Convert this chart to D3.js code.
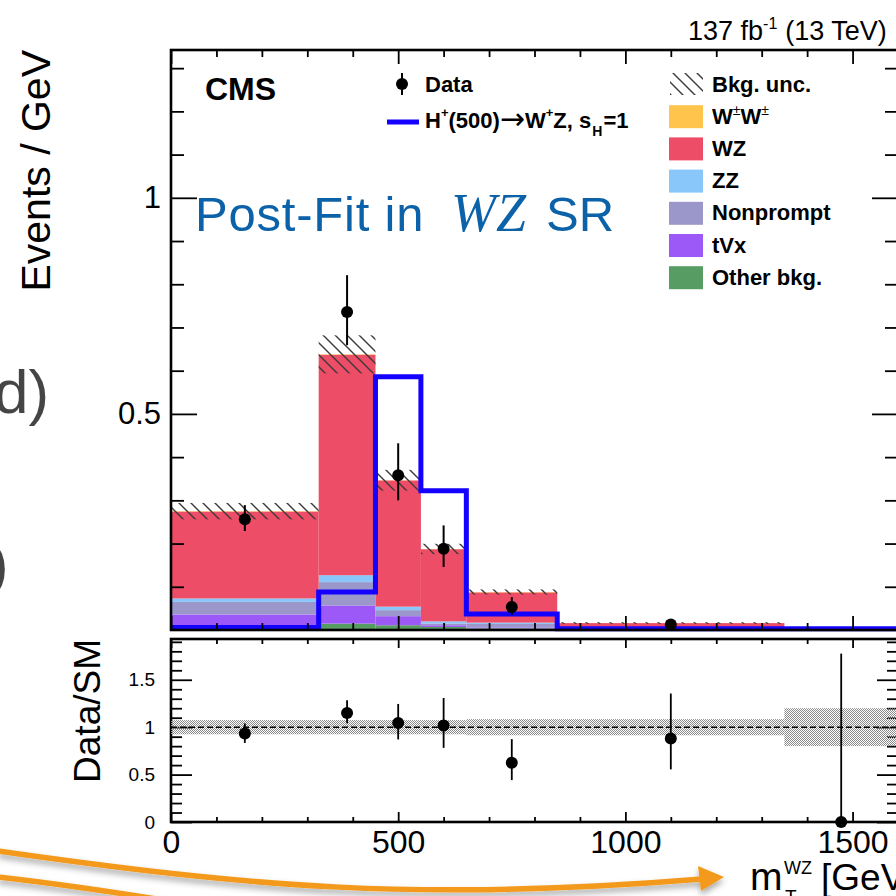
<!DOCTYPE html>
<html>
<head>
<meta charset="utf-8">
<script src="https://cdn.jsdelivr.net/npm/d3@7"></script>
<style>
  html, body { margin: 0; padding: 0; background: #ffffff; }
  svg { display: block; font-family: "Liberation Sans", Arial, Helvetica, sans-serif; }
</style>
</head>
<body>
<script>
// ---- m_T(WZ) binning and post-fit yields (events / GeV) ----
const binEdges  = [0, 325, 450, 550, 650, 850, 1350, 1600];
const otherBkg  = [0.004, 0.0148, 0.011, 0.007, 0.004, 0.0005, 0.0002];
const tVx       = [0.032, 0.042, 0.021, 0.004, 0.002, 0.0005, 0.0002];
const nonprompt = [0.029, 0.054, 0.014, 0.004, 0.008, 0.002, 0.0004];
const zz        = [0.008, 0.016, 0.008, 0.005, 0.003, 0.001, 0.0002];
const wz        = [0.201, 0.510, 0.292, 0.167, 0.070, 0.012, 0.0015];
const wpmwpm    = [0.001, 0.001, 0.0005, 0.0005, 0.001, 0.0001, 0.0001];
const bkgUnc    = [0.019, 0.044, 0.024, 0.012, 0.006, 0.002, 0.0006];
const signal    = [0.006, 0.088, 0.586, 0.322, 0.037, 0.003, 0.003];

// observed data (no entry in the last bin)
const dataVal   = [0.256, 0.736, 0.358, 0.188, 0.053, 0.013, null];
const dataErrLo = [0.027, 0.077, 0.058, 0.042, 0.018, 0.005, 0];
const dataErrHi = [0.033, 0.085, 0.074, 0.054, 0.023, 0.007, 0];

// ratio panel
const ratioVal   = [0.934, 1.15, 1.045, 1.018, 0.624, 0.88, 0];
const ratioErrLo = [0.10, 0.108, 0.174, 0.236, 0.182, 0.325, 0];
const ratioErrHi = [0.105, 0.134, 0.20, 0.29, 0.25, 0.475, 1.776];
const ratioBand  = [0.075, 0.075, 0.075, 0.075, 0.085, 0.085, 0.20];

// ticks
const xMajor = [0, 500, 1000, 1500];
const xMinor = d3.range(100, 1600, 100).filter(v => v % 500 !== 0);
const yMajor = [0.5, 1];
const yMinor = d3.range(1, 14).map(i => i / 10).filter(v => Math.abs(v - 0.5) > 1e-6 && Math.abs(v - 1) > 1e-6);
const rMajor = [0, 0.5, 1, 1.5];
const rMinor = d3.range(1, 20).map(i => i / 10).filter(v => Math.abs(v * 2 - Math.round(v * 2)) > 1e-6);

// legend entries, top to bottom (stack is drawn in reverse order)
const legendNames  = ["W±W±", "WZ", "ZZ", "Nonprompt", "tVx", "Other bkg."];
const legendColors = ["#fec44c", "#ee4d67", "#89c7fb", "#9b97cb", "#9d58f8", "#579c62"];
const stackKeys    = ["other", "tvx", "nonprompt", "zz", "wz", "ww"];
const stackColors  = { other: "#579c62", tvx: "#9d58f8", nonprompt: "#9b97cb", zz: "#89c7fb", wz: "#ee4d67", ww: "#fec44c" };

const FONT = '"Liberation Sans", Arial, Helvetica, sans-serif';

const svg = d3.select("body").append("svg").attr("width", 896).attr("height", 896);
const defs = svg.append("defs");

// hatch for the background uncertainty
const hp = defs.append("pattern").attr("id", "hatch").attr("patternUnits", "userSpaceOnUse")
  .attr("width", 12).attr("height", 12);
hp.append("path").attr("d", "M0,0L12,12M-2,10L2,14M10,-2L14,2")
  .attr("stroke", "#3a3a3a").attr("stroke-width", 1.4).attr("fill", "none");

// stipple for the ratio uncertainty band
const dp = defs.append("pattern").attr("id", "stipple").attr("patternUnits", "userSpaceOnUse")
  .attr("width", 2).attr("height", 2);
dp.append("rect").attr("width", 1).attr("height", 1).attr("fill", "#8a8a8a");
dp.append("rect").attr("x", 1).attr("y", 1).attr("width", 1).attr("height", 1).attr("fill", "#8a8a8a");

const shadow = defs.append("filter").attr("id", "softShadow").attr("x", "-10%").attr("y", "-50%")
  .attr("width", "120%").attr("height", "200%");
shadow.append("feDropShadow").attr("dx", 0).attr("dy", 4).attr("stdDeviation", 3)
  .attr("flood-color", "#000").attr("flood-opacity", 0.35);

// ---- scales ----
const x  = d3.scaleLinear().domain([0, 1600]).range([171, 898]);
const y  = d3.scaleLinear().domain([0, 1.342]).range([630, 50]);
const yr = d3.scaleLinear().domain([0, 1.93]).range([822, 639]);

const nBins = binEdges.length - 1;
const bins = d3.range(nBins).map(i => ({
  lo: binEdges[i], hi: binEdges[i + 1], mid: (binEdges[i] + binEdges[i + 1]) / 2,
  other: otherBkg[i], tvx: tVx[i], nonprompt: nonprompt[i], zz: zz[i], wz: wz[i], ww: wpmwpm[i],
  unc: bkgUnc[i], sig: signal[i],
  data: dataVal[i], dLo: dataErrLo[i], dHi: dataErrHi[i],
  r: ratioVal[i], rLo: ratioErrLo[i], rHi: ratioErrHi[i], band: ratioBand[i]
}));
bins.forEach(b => { b.total = stackKeys.reduce((s, k) => s + b[k], 0); });

// ---- slide text behind the figure ----
svg.append("text").attr("x", -6).attr("y", 413).attr("font-size", 62).attr("fill", "#454545")
  .attr("font-family", FONT).text("d)");
svg.append("text").attr("x", -12).attr("y", 585).attr("font-size", 62).attr("fill", "#454545")
  .attr("font-family", FONT).text(")");

// ---- main panel ----
const main = svg.append("g");

const stacked = d3.stack().keys(stackKeys)(bins);
main.append("g").selectAll("g").data(stacked).join("g")
  .attr("fill", s => stackColors[s.key])
  .selectAll("rect").data(s => s).join("rect")
  .attr("x", d => x(d.data.lo))
  .attr("width", d => x(d.data.hi) - x(d.data.lo))
  .attr("y", d => y(d[1]))
  .attr("height", d => Math.max(0, y(d[0]) - y(d[1])));

// background uncertainty
main.append("g").selectAll("rect").data(bins).join("rect")
  .attr("x", d => x(d.lo)).attr("width", d => x(d.hi) - x(d.lo))
  .attr("y", d => y(d.total + d.unc))
  .attr("height", d => y(d.total - d.unc) - y(d.total + d.unc))
  .attr("fill", "url(#hatch)");

// signal histogram
const sigPts = bins.map(b => [b.lo, b.sig]).concat([[binEdges[nBins], signal[nBins - 1]]]);
main.append("path")
  .attr("d", d3.line().x(d => x(d[0])).y(d => y(d[1])).curve(d3.curveStepAfter)(sigPts))
  .attr("fill", "none").attr("stroke", "#1400ff").attr("stroke-width", 5);

// data points
const dataBins = bins.filter(b => b.data !== null);
main.append("g").selectAll("line").data(dataBins).join("line")
  .attr("x1", d => x(d.mid)).attr("x2", d => x(d.mid))
  .attr("y1", d => y(d.data - d.dLo)).attr("y2", d => y(d.data + d.dHi))
  .attr("stroke", "#000").attr("stroke-width", 2);
main.append("g").selectAll("circle").data(dataBins).join("circle")
  .attr("cx", d => x(d.mid)).attr("cy", d => y(d.data)).attr("r", 6).attr("fill", "#000");

// ---- axis helper ----
function drawAxis(g, axisGen, scale, pos, majors, minors, majLen, minLen, fmt, pad, fs) {
  const gMin = g.append("g").attr("transform", pos)
    .call(axisGen(scale).tickValues(minors).tickSize(-minLen).tickFormat(""));
  const gMaj = g.append("g").attr("transform", pos)
    .call(axisGen(scale).tickValues(majors).tickSize(-majLen).tickPadding(pad)
      .tickFormat(fmt ? fmt : () => ""));
  [gMin, gMaj].forEach(a => {
    a.select(".domain").remove();
    a.selectAll(".tick line").attr("stroke", "#000").attr("stroke-width", 1.8);
    a.selectAll("text").attr("font-size", fs || 10).attr("font-family", FONT).attr("fill", "#000");
  });
  return gMaj;
}

const fmtNum = d3.format("");
const axes = svg.append("g");
// main panel
drawAxis(axes, d3.axisLeft,   y, `translate(${x(0)},0)`,    yMajor, yMinor, 26, 13, fmtNum, 10, 31);
drawAxis(axes, d3.axisRight,  y, `translate(${x(1600)},0)`, yMajor, yMinor, 26, 13, null, 0);
drawAxis(axes, d3.axisBottom, x, `translate(0,${y(0)})`,    xMajor, xMinor, 14, 7, null, 0);
drawAxis(axes, d3.axisTop,    x, `translate(0,${y(1.342)})`, xMajor, xMinor, 14, 7, null, 0);
axes.append("rect").attr("x", x(0)).attr("y", y(1.342)).attr("width", x(1600) - x(0))
  .attr("height", y(0) - y(1.342)).attr("fill", "none").attr("stroke", "#000").attr("stroke-width", 2.6);

// ---- ratio panel ----
const ratio = svg.append("g");
ratio.append("g").selectAll("rect").data(bins).join("rect")
  .attr("x", d => x(d.lo)).attr("width", d => x(d.hi) - x(d.lo))
  .attr("y", d => yr(1 + d.band)).attr("height", d => yr(1 - d.band) - yr(1 + d.band))
  .attr("fill", "url(#stipple)");
ratio.append("line").attr("x1", x(0)).attr("x2", x(1600)).attr("y1", yr(1)).attr("y2", yr(1))
  .attr("stroke", "#000").attr("stroke-width", 1.4).attr("stroke-dasharray", "6,3");
ratio.append("g").selectAll("line").data(bins).join("line")
  .attr("x1", d => x(d.mid)).attr("x2", d => x(d.mid))
  .attr("y1", d => yr(d.r - d.rLo)).attr("y2", d => yr(d.r + d.rHi))
  .attr("stroke", "#000").attr("stroke-width", 1.8);
ratio.append("g").selectAll("circle").data(bins).join("circle")
  .attr("cx", d => x(d.mid)).attr("cy", d => yr(d.r)).attr("r", 6).attr("fill", "#000");

drawAxis(axes, d3.axisLeft,   yr, `translate(${x(0)},0)`,    rMajor, rMinor, 21, 11, fmtNum, 16, 19);
drawAxis(axes, d3.axisRight,  yr, `translate(${x(1600)},0)`, rMajor, rMinor, 21, 11, null, 0);
drawAxis(axes, d3.axisBottom, x,  `translate(0,${yr(0)})`,   xMajor, xMinor, 10, 5, fmtNum, 8, 32);
drawAxis(axes, d3.axisTop,    x,  `translate(0,${yr(1.93)})`, xMajor, xMinor, 9, 5, null, 0);
axes.append("rect").attr("x", x(0)).attr("y", yr(1.93)).attr("width", x(1600) - x(0))
  .attr("height", yr(0) - yr(1.93)).attr("fill", "none").attr("stroke", "#000").attr("stroke-width", 2.6);

// ---- titles ----
svg.append("text").attr("transform", "translate(50,50) rotate(-90)").attr("text-anchor", "end")
  .attr("font-size", 41).attr("font-family", FONT).text("Events / GeV");
svg.append("text").attr("transform", "translate(100,639) rotate(-90)").attr("text-anchor", "end")
  .attr("font-size", 37).attr("font-family", FONT).text("Data/SM");

const xt = svg.append("g").attr("font-family", FONT).attr("fill", "#000");
xt.append("text").attr("x", 750).attr("y", 890).attr("font-size", 39).text("m");
xt.append("text").attr("x", 784).attr("y", 874).attr("font-size", 18).text("WZ");
xt.append("text").attr("x", 785).attr("y", 903).attr("font-size", 19).text("T");
xt.append("text").attr("x", 821).attr("y", 890).attr("font-size", 37).text("[GeV]");

const lumi = svg.append("text").attr("x", 688).attr("y", 40).attr("font-size", 27).attr("font-family", FONT);
lumi.append("tspan").text("137 fb");
lumi.append("tspan").attr("font-size", 16).attr("dy", -11).text("-1");
lumi.append("tspan").attr("dy", 11).attr("dx", 8).text("(13 TeV)");

svg.append("text").attr("x", 205).attr("y", 100).attr("font-size", 32).attr("font-weight", "bold")
  .attr("font-family", FONT).text("CMS");

const pf = svg.append("g").attr("fill", "#0c62a8");
pf.append("text").attr("x", 195).attr("y", 231).attr("font-size", 49).attr("letter-spacing", 0.8)
  .attr("font-family", FONT).text("Post-Fit in");
pf.append("text").attr("x", 451).attr("y", 231).attr("font-size", 54).attr("font-style", "italic")
  .attr("font-family", '"Liberation Serif", "DejaVu Serif", serif').text("WZ");
pf.append("text").attr("x", 546).attr("y", 231).attr("font-size", 49)
  .attr("font-family", FONT).text("SR");

// ---- legends ----
const leg = svg.append("g").attr("font-family", FONT).attr("font-weight", "bold").attr("font-size", 22);
// data marker
leg.append("line").attr("x1", 402).attr("x2", 402).attr("y1", 73).attr("y2", 95)
  .attr("stroke", "#000").attr("stroke-width", 2);
leg.append("circle").attr("cx", 402).attr("cy", 84).attr("r", 6).attr("fill", "#000");
leg.append("text").attr("x", 425).attr("y", 92).text("Data");
// signal
leg.append("line").attr("x1", 387).attr("x2", 419).attr("y1", 122).attr("y2", 122)
  .attr("stroke", "#1400ff").attr("stroke-width", 5);
const st = leg.append("text").attr("x", 425).attr("y", 128);
st.append("tspan").text("H");
st.append("tspan").attr("font-size", 13).attr("dy", -11).text("+");
st.append("tspan").attr("dy", 11).text("(500)");
st.append("tspan").attr("font-weight", "normal").attr("font-family", '"DejaVu Sans", sans-serif')
  .attr("font-size", 30).attr("dy", 1).text("→");
st.append("tspan").attr("dy", -1).text("W");
st.append("tspan").attr("font-size", 13).attr("dy", -11).text("+");
st.append("tspan").attr("dy", 11).text("Z, s");
st.append("tspan").attr("font-size", 14).attr("dy", 8).attr("dx", 1).text("H");
st.append("tspan").attr("dy", -8).attr("dx", 1).text("=1");

// background legend
const rowY = i => 73 + i * 32.2;
leg.append("rect").attr("x", 670).attr("y", rowY(0)).attr("width", 33).attr("height", 22)
  .attr("fill", "url(#hatch)");
leg.append("text").attr("x", 712).attr("y", rowY(0) + 19).text("Bkg. unc.");
legendNames.forEach((name, j) => {
  const i = j + 1;
  leg.append("rect").attr("x", 669).attr("y", rowY(i)).attr("width", 34).attr("height", 23)
    .attr("fill", legendColors[j]);
  const t = leg.append("text").attr("x", 712).attr("y", rowY(i) + 18.5);
  if (name === "W±W±") {
    t.append("tspan").text("W");
    t.append("tspan").attr("font-size", 14).attr("font-weight", "normal").attr("dy", -9).text("±");
    t.append("tspan").attr("dy", 9).text("W");
    t.append("tspan").attr("font-size", 14).attr("font-weight", "normal").attr("dy", -9).text("±");
  } else {
    t.text(name);
  }
});

// ---- slide arrows along the bottom edge ----
const arrows = svg.append("g").attr("filter", "url(#softShadow)");
arrows.append("path").attr("d", "M-2,851 C250,887 420,902 702,879")
  .attr("fill", "none").attr("stroke", "#f39a1f").attr("stroke-width", 5.5);
arrows.append("path").attr("d", "M698,866 L724,877 L701,891 Z").attr("fill", "#f39a1f");
arrows.append("path").attr("d", "M-2,877 C60,884 120,893 175,902")
  .attr("fill", "none").attr("stroke", "#f39a1f").attr("stroke-width", 5.5);
</script>
</body>
</html>
